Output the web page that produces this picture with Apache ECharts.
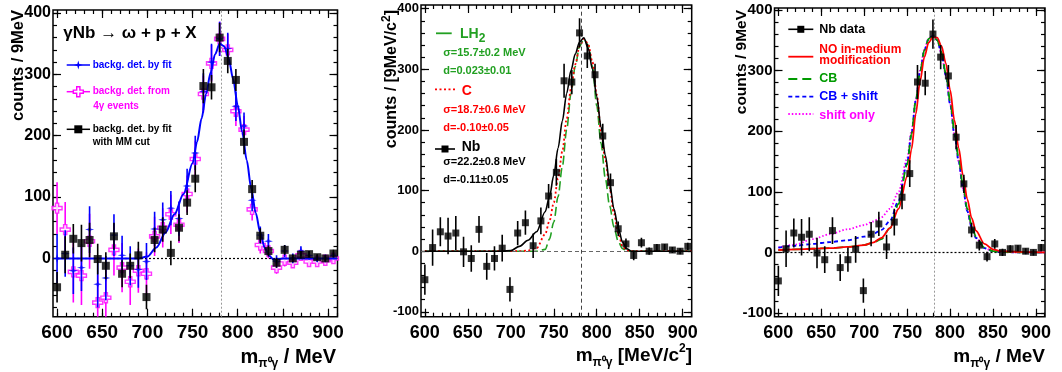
<!DOCTYPE html>
<html>
<head>
<meta charset="utf-8">
<script src="https://cdn.jsdelivr.net/npm/echarts@6/dist/echarts.min.js"></script>
<style>
  html, body { margin: 0; padding: 0; background: #fff; }
  #chart { width: 1062px; height: 372px; }
</style>
</head>
<body>
<div id="chart"></div>
<script>
const F = '"Liberation Sans", Arial, Helvetica, sans-serif';

// 9 MeV bins, centres
const mass = [600, 609, 618, 627, 636, 645, 654, 663, 672, 681, 690, 699, 708, 717, 726, 735, 744, 753,
  762, 771, 780, 789, 798, 807, 816, 825, 834, 843, 852, 861, 870, 879, 888, 897, 906];

// Nb data (background by fit, with MM cut)
const nbCounts = [-47, 6, 32, 25, 30, -1, -12, 36, -25, -12, 5, -63, 30, 47, 9, 50, 91, 130,
  281, 279, 360, 322, 291, 190, 113, 37, 12, -7, 14, 0, 6, 7, 2, 0, 8];
const nbErr = [25, 30, 24, 30, 28, 25, 22, 22, 22, 20, 22, 20, 20, 20, 20, 22, 20, 22,
  28, 20, 24, 20, 18, 20, 15, 12, 9, 8, 8, 6, 6, 5, 5, 5, 6];

// background determined by fit (no MM cut)
const fitBgCounts = [0, 8, -20, -15, 47, -42, -32, 38, 5, -12, -18, -5, 48, 63, 82, 65, 118, 172,
  272, 320, 358, 342, 248, 216, 95, 38, 28, -5, 12, 0, 12, 5, 0, 0, 5];
const fitBgErr = [40, 38, 38, 38, 38, 38, 36, 34, 32, 32, 30, 30, 28, 28, 28, 28, 28, 28,
  30, 30, 28, 26, 24, 22, 18, 14, 12, 10, 10, 8, 8, 7, 6, 6, 6];

// background from 4 gamma events
const fourGCounts = [82, 47, -22, -28, 28, -72, -64, 14, -15, -38, -20, -25, 36, 50, 72, 55, 105, 162,
  268, 318, 358, 340, 240, 210, 80, 22, 12, -15, -3, -7, 5, -5, -5, -3, 0];
const fourGErr = [42, 45, 50, 48, 45, 45, 45, 42, 40, 38, 36, 35, 32, 32, 32, 30, 30, 30,
  30, 30, 28, 26, 24, 22, 18, 14, 12, 10, 10, 8, 8, 7, 6, 6, 6];

// panel 1 fit curve
const fit1X = [600, 650, 690, 700, 710, 720, 730, 740, 750, 755, 760, 765, 770, 775, 780, 785, 790,
  795, 800, 805, 810, 815, 820, 825, 830, 835, 840, 850, 870, 910];
const fit1Y = [0, 0, 0, 3, 18, 42, 72, 105, 155, 190, 228, 268, 303, 333, 350, 346, 326,
  292, 250, 206, 160, 114, 74, 42, 17, 4, -2, 0, 0, 0];

// panel 2 fitted line shapes
const fit2X = [600, 690, 700, 710, 720, 730, 740, 745, 750, 755, 760, 765, 770, 775, 780, 785, 790,
  795, 800, 805, 810, 815, 820, 825, 830, 835, 840, 870, 910];
const nbFit = [0, 0, 1, 8, 18, 32, 65, 90, 125, 170, 215, 260, 298, 325, 345, 352, 335,
  300, 255, 205, 158, 112, 70, 38, 15, 4, 0, 0, 0];
const cFit = [0, 0, 0, 0, 1, 5, 28, 50, 80, 120, 165, 218, 268, 308, 338, 350, 342,
  312, 258, 198, 150, 105, 62, 30, 8, 1, 0, 0, 0];
const lh2Fit = [0, 0, 0, 0, 0, 0, 3, 20, 48, 90, 140, 200, 260, 305, 338, 350, 340,
  305, 240, 178, 120, 75, 40, 16, 4, 0, 0, 0, 0];

// panel 3 model curves
const sim3X = [600, 620, 640, 660, 680, 700, 710, 720, 730, 740, 750, 755, 760, 765, 770, 775,
  780, 785, 790, 795, 800, 805, 810, 815, 820, 825, 830, 840, 850, 860, 880, 910];
const noMod = [4, 5, 6, 7, 9, 12, 16, 24, 40, 72, 125, 170, 228, 282, 322, 346,
  355, 354, 340, 312, 268, 218, 172, 127, 88, 57, 36, 14, 5, 2, 1, 0];
const cbOnly = [4, 5, 6, 7, 9, 12, 16, 22, 40, 80, 145, 195, 250, 297, 333, 352,
  357, 350, 330, 295, 250, 200, 155, 110, 72, 45, 26, 8, 2, 1, 0, 0];
const cbShift = [8, 11, 14, 17, 20, 26, 30, 37, 52, 85, 148, 195, 250, 298, 333, 352,
  357, 350, 328, 292, 245, 195, 150, 105, 68, 42, 24, 7, 2, 1, 0, 0];
const shiftOnly = [8, 13, 22, 30, 38, 45, 51, 58, 72, 100, 155, 200, 252, 300, 335, 353,
  357, 350, 328, 292, 245, 195, 150, 105, 68, 42, 24, 7, 2, 1, 0, 0];

const omegaMass = 782;

const xMajor = [600, 650, 700, 750, 800, 850, 900];
const xMinor = [600, 610, 620, 630, 640, 650, 660, 670, 680, 690, 700, 710, 720, 730, 740, 750,
  760, 770, 780, 790, 800, 810, 820, 830, 840, 850, 860, 870, 880, 890, 900, 910];
const yMajor = [-100, 0, 100, 200, 300, 400];
const yMinor = [-100, -80, -60, -40, -20, 0, 20, 40, 60, 80, 100, 120, 140, 160, 180, 200,
  220, 240, 260, 280, 300, 320, 340, 360, 380, 400];

const BLUE = '#0000ff', MAG = '#ff00ff', RED = '#ff0000', GRN2 = '#22a022', GRN3 = '#009a00';
const STAR = 'path://M0,-6 L1.3,-1.3 L6,0 L1.3,1.3 L0,6 L-1.3,1.3 L-6,0 L-1.3,-1.3 Z';
const CROSS = 'path://M-1.6,-5 L1.6,-5 L1.6,-1.6 L5,-1.6 L5,1.6 L1.6,1.6 L1.6,5 L-1.6,5 L-1.6,1.6 L-5,1.6 L-5,-1.6 L-1.6,-1.6 Z';
const STAR_PTS = [[0, -6], [1.3, -1.3], [6, 0], [1.3, 1.3], [0, 6], [-1.3, 1.3], [-6, 0], [-1.3, -1.3]];
const CROSS_PTS = [[-1.6, -5], [1.6, -5], [1.6, -1.6], [5, -1.6], [5, 1.6], [1.6, 1.6], [1.6, 5], [-1.6, 5],
  [-1.6, 1.6], [-5, 1.6], [-5, -1.6], [-1.6, -1.6]];

const grids = [
  { left: 53, top: 10, width: 284.5, height: 306.7 },
  { left: 421, top: 5, width: 270.7, height: 311.7 },
  { left: 774.5, top: 8, width: 270.5, height: 308.7 }
].map(g => Object.assign({ show: true, borderColor: '#000', borderWidth: 1.5, backgroundColor: 'transparent' }, g));

const xAxes = [], yAxes = [];
// ROOT style frame: inward ticks on all four sides
function frameAxes(list, gi, dim, min, max, label) {
  const pos = dim === 'x' ? ['bottom', 'top'] : ['left', 'right'];
  const inRange = v => v >= min && v <= max;
  const mj = (dim === 'x' ? xMajor : yMajor).filter(inRange);
  const mn = (dim === 'x' ? xMinor : yMinor).filter(inRange);
  const first = list.length;
  pos.forEach((p, k) => {
    [[mj, 8], [mn, 4]].forEach(([vals, len], j) => {
      list.push({
        gridIndex: gi, type: 'value', min, max, position: p,
        axisLine: { show: false, onZero: false },
        splitLine: { show: false },
        axisTick: { show: true, inside: true, length: len, customValues: vals, lineStyle: { color: '#000', width: 1.2 } },
        axisLabel: (k === 0 && j === 0)
          ? Object.assign({ show: true, customValues: mj, color: '#000', fontFamily: F, fontWeight: 'bold' }, label)
          : { show: false }
      });
    });
  });
  return first;
}

const x1 = frameAxes(xAxes, 0, 'x', 595.5, 910.5, { fontSize: 19, margin: 7 });
const y1 = frameAxes(yAxes, 0, 'y', -95, 405, { fontSize: 16, margin: 2 });
const x2 = frameAxes(xAxes, 1, 'x', 595.5, 910.5, { fontSize: 18, margin: 7 });
const y2 = frameAxes(yAxes, 1, 'y', -108, 406, { fontSize: 13, margin: 2 });
const x3 = frameAxes(xAxes, 2, 'x', 595.5, 910.5, { fontSize: 18, margin: 7 });
const y3 = frameAxes(yAxes, 2, 'y', -106, 403, { fontSize: 15, margin: 2 });

function errBars(xi, yi, ys, es, color, z) {
  return {
    type: 'custom', xAxisIndex: xi, yAxisIndex: yi, clip: true, z, silent: true,
    data: mass.map((m, i) => [m, ys[i] - es[i], ys[i] + es[i]]),
    encode: { x: 0, y: [1, 2] },
    renderItem: (params, api) => {
      const a = api.coord([api.value(0), api.value(1)]);
      const b = api.coord([api.value(0), api.value(2)]);
      return { type: 'line', shape: { x1: a[0], y1: a[1], x2: b[0], y2: b[1] }, style: { stroke: color, lineWidth: 1.6 } };
    }
  };
}
function markers(xi, yi, ys, symbol, size, itemStyle, z) {
  return { type: 'scatter', xAxisIndex: xi, yAxisIndex: yi, z, silent: true, symbol, symbolSize: size, itemStyle,
    data: mass.map((m, i) => [m, ys[i]]) };
}
function curve(xi, yi, xs, ys, color, type, width, z, extra) {
  return Object.assign({
    type: 'line', xAxisIndex: xi, yAxisIndex: yi, z, silent: true, symbol: 'none', smooth: 0.3, smoothMonotone: 'x',
    data: xs.map((x, i) => [x, ys[i]]), lineStyle: { color, type, width }
  }, extra || {});
}
function refLines(vColor, vType, hColor, hType) {
  return { markLine: { silent: true, symbol: 'none', label: { show: false }, animation: false,
    data: [
      { xAxis: omegaMass, lineStyle: { color: vColor, type: vType, width: 1 } },
      { yAxis: 0, lineStyle: { color: hColor, type: hType, width: 1.2 } }
    ] } };
}

const blackSq = { color: '#000' };
const series = [
  // panel 1
  errBars(x1, y1, fourGCounts, fourGErr, MAG, 2),
  markers(x1, y1, fourGCounts, CROSS, 10, { color: '#fff', borderColor: MAG, borderWidth: 1.4 }, 3),
  errBars(x1, y1, fitBgCounts, fitBgErr, BLUE, 4),
  markers(x1, y1, fitBgCounts, STAR, 9, { color: BLUE }, 5),
  curve(x1, y1, fit1X, fit1Y, BLUE, 'solid', 2, 6, refLines('#999', [2, 2], '#000', [2, 2])),
  errBars(x1, y1, nbCounts, nbErr, '#000', 7),
  markers(x1, y1, nbCounts, 'rect', 8, blackSq, 8),
  // panel 2
  curve(x2, y2, fit2X, lh2Fit, GRN2, [9, 4], 1.6, 3, refLines('#444', [4, 3], '#666', [4, 3])),
  curve(x2, y2, fit2X, cFit, RED, [2, 2.5], 1.8, 4),
  curve(x2, y2, fit2X, nbFit, '#000', 'solid', 1.6, 5),
  errBars(x2, y2, nbCounts, nbErr, '#000', 6),
  markers(x2, y2, nbCounts, 'rect', 7, blackSq, 7),
  // panel 3
  curve(x3, y3, sim3X, shiftOnly, MAG, [1.5, 2], 1.8, 3, refLines('#999', [2, 2], '#000', [2, 2])),
  curve(x3, y3, sim3X, cbShift, BLUE, [4, 3], 1.8, 4),
  curve(x3, y3, sim3X, cbOnly, GRN3, [9, 5], 1.8, 5),
  curve(x3, y3, sim3X, noMod, RED, 'solid', 1.8, 6),
  errBars(x3, y3, nbCounts, nbErr, '#000', 7),
  markers(x3, y3, nbCounts, 'rect', 7, blackSq, 8)
];

// ---- text and legends
function txt(x, y, text, size, color, more) {
  return { type: 'text', x, y, silent: true, z: 20, style: Object.assign({ text, fontSize: size, fontWeight: 'bold', fontFamily: F,
    fill: color, align: 'left', verticalAlign: 'middle' }, more || {}) };
}
function seg(x1, y1, x2, y2, color, width, dash) {
  return { type: 'line', silent: true, z: 20, shape: { x1, y1, x2, y2 }, style: { stroke: color, lineWidth: width, lineDash: dash || null } };
}
function sq(cx, cy, s) {
  return { type: 'rect', silent: true, z: 21, shape: { x: cx - s / 2, y: cy - s / 2, width: s, height: s }, style: { fill: '#000' } };
}
function polyMark(pts, cx, cy, k, style) {
  return { type: 'polygon', silent: true, z: 21, shape: { points: pts.map(p => [cx + p[0] * k, cy + p[1] * k]) }, style };
}
const subRich = {
  sub: { fontSize: 12, fontWeight: 'bold', fontFamily: F, verticalAlign: 'bottom', lineHeight: 12 },
  sup: { fontSize: 12, fontWeight: 'bold', fontFamily: F, verticalAlign: 'top', lineHeight: 12 }
};
function richTxt(x, y, text, size, lh, align, rot, color) {
  return { type: 'text', x, y, rotation: rot || 0, silent: true, z: 20,
    style: { text, fontSize: size, fontWeight: 'bold', fontFamily: F, fill: color || '#000', lineHeight: lh,
      align, verticalAlign: 'middle', rich: subRich } };
}

const graphic = [
  // axis titles
  richTxt(18, 10, 'counts / 9MeV', 16.5, 20, 'right', Math.PI / 2),
  richTxt(391.7, 10, 'counts / [9MeV/c{sup|2}]', 16, 22, 'right', Math.PI / 2),
  richTxt(741.7, 10, 'counts / 9MeV', 15.5, 20, 'right', Math.PI / 2),
  richTxt(336, 357, 'm{sub|π⁰γ} / MeV', 20, 26, 'right'),
  richTxt(692, 356, 'm{sub|π⁰γ} [MeV/c{sup|2}]', 19, 26, 'right'),
  richTxt(1045, 357, 'm{sub|π⁰γ} / MeV', 19, 26, 'right'),

  // panel 1
  txt(63.3, 33.3, 'γNb → ω + p + X', 17, '#000'),
  seg(66.7, 65, 90, 65, BLUE, 1.5), polyMark(STAR_PTS, 78.3, 65, 0.75, { fill: BLUE }),
  txt(92.7, 65, 'backg. det. by fit', 10, BLUE),
  seg(66.7, 91.7, 90, 91.7, MAG, 1.5), polyMark(CROSS_PTS, 78.3, 91.7, 1, { fill: '#fff', stroke: MAG, lineWidth: 1.4 }),
  txt(92.7, 91.7, 'backg. det. from', 10, MAG),
  txt(93.3, 106, '4γ events', 10, MAG),
  seg(66.7, 129.3, 90, 129.3, '#000', 1.5), sq(78.3, 129.3, 8),
  txt(92.7, 129.3, 'backg. det. by fit', 10, '#000'),
  txt(92.7, 142.7, 'with MM cut', 10, '#000'),

  // panel 2
  seg(436, 33.3, 451.7, 33.3, GRN2, 1.8),
  richTxt(460, 34, 'LH{sub|2}', 14, 22, 'left', 0, GRN2),
  txt(443.3, 53.3, 'σ=15.7±0.2 MeV', 11, GRN2),
  txt(443.3, 70.7, 'd=0.023±0.01', 11, GRN2),
  seg(435, 89.3, 455, 89.3, RED, 1.8, [2, 2.5]),
  txt(461.7, 91.5, 'C', 14, RED),
  txt(443.3, 110, 'σ=18.7±0.6 MeV', 11, RED),
  txt(443.3, 128.3, 'd=-0.10±0.05', 11, RED),
  seg(435, 149, 455, 149, '#000', 1.6), sq(445, 149, 7),
  txt(461.7, 147.3, 'Nb', 14, '#000'),
  txt(443.3, 162.3, 'σ=22.2±0.8 MeV', 11, '#000'),
  txt(443.3, 180, 'd=-0.11±0.05', 11, '#000'),

  // panel 3
  seg(788.3, 29.3, 813.3, 29.3, '#000', 1.6), sq(800.8, 29.3, 7),
  txt(819.3, 29.3, 'Nb data', 12.5, '#000'),
  seg(788.3, 56.7, 813.3, 56.7, RED, 1.8),
  txt(819.3, 50, 'NO in-medium', 12, RED),
  txt(819.3, 61, 'modification', 12, RED),
  seg(788.3, 79, 813.3, 79, GRN3, 1.8, [9, 5]),
  txt(819.3, 79, 'CB', 12.5, GRN3),
  seg(788.3, 96.7, 813.3, 96.7, BLUE, 1.8, [4, 3]),
  txt(819.3, 96.7, 'CB + shift', 12.5, BLUE),
  seg(788.3, 114, 813.3, 114, MAG, 1.8, [1.5, 2]),
  txt(819.3, 116, 'shift only', 12.5, MAG)
];

const chart = echarts.init(document.getElementById('chart'), null, { renderer: 'canvas' });
chart.setOption({
  animation: false,
  backgroundColor: '#fff',
  grid: grids,
  xAxis: xAxes,
  yAxis: yAxes,
  series,
  graphic
});
window.addEventListener('resize', () => chart.resize());
</script>
</body>
</html>
